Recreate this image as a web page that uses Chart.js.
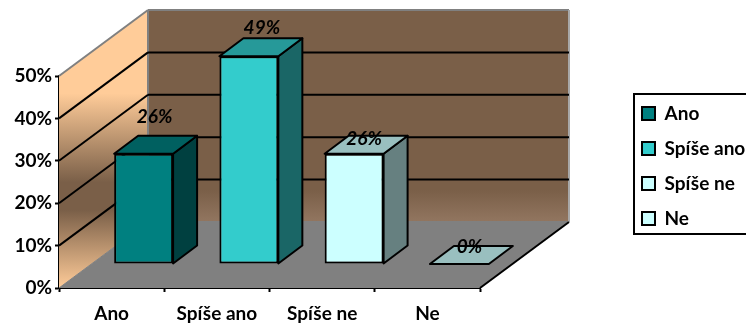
<!DOCTYPE html>
<html>
<head>
<meta charset="utf-8">
<title>Chart</title>
<script src="https://cdn.jsdelivr.net/npm/chart.js@4"></script>
<style>
    html, body { margin: 0; padding: 0; background: #fff; overflow: hidden; }
    canvas { display: block; }
</style>
</head>
<body>
<canvas id="answerChart" width="746" height="325"></canvas>
<script>
const categories = ['Ano', 'Spíše ano', 'Spíše ne', 'Ne'];
const values = [26, 49, 26, 0];
const frontColors = ['#008080', '#33CCCC', '#CCFFFF', '#CCFFFF'];
const topColors = ['#006060', '#269999', '#99BFBF', '#99BFBF'];
const sideColors = ['#004040', '#1A6666', '#668080', '#668080'];

const FONT = 'Lato, Carlito, Calibri, sans-serif';

// fake perspective: how far the back wall and the bars sit behind the axis plane
const roomDepth = { x: 89, y: -66 };
const barShift = { x: 32, y: -24 };
const barDepth = { x: 24, y: -18 };

// data label position relative to the top centre of each bar's front face
const labelOffsets = [
    { x: 11, y: -37 },
    { x: 13, y: -28 },
    { x: 10, y: -15 },
    { x: 10, y: -17 },
];

function polygon(ctx, points, fill, stroke, lineWidth) {
    ctx.beginPath();
    points.forEach((p, i) => i ? ctx.lineTo(p[0], p[1]) : ctx.moveTo(p[0], p[1]));
    ctx.closePath();
    if (fill) {
        ctx.fillStyle = fill;
        ctx.fill();
    }
    if (stroke) {
        ctx.strokeStyle = stroke;
        ctx.lineWidth = lineWidth || 2;
        ctx.lineJoin = 'round';
        ctx.stroke();
    }
}

function line(ctx, x1, y1, x2, y2, color, width) {
    ctx.beginPath();
    ctx.moveTo(x1, y1);
    ctx.lineTo(x2, y2);
    ctx.strokeStyle = color;
    ctx.lineWidth = width;
    ctx.stroke();
}

// back wall, side wall, floor and the gridlines running over them
const roomPlugin = {
    id: 'room',
    beforeDatasetsDraw(chart) {
        const ctx = chart.ctx;
        const { left, right, top, bottom } = chart.chartArea;
        const dx = roomDepth.x;
        const dy = roomDepth.y;

        ctx.save();

        const wallFill = ctx.createLinearGradient(0, top + dy, 0, bottom);
        wallFill.addColorStop(0, '#FFCC99');
        wallFill.addColorStop(0.3, '#FFCC99');
        wallFill.addColorStop(0.62, '#7A5F48');
        wallFill.addColorStop(0.72, '#7A5F48');
        wallFill.addColorStop(1, '#FFCC99');
        polygon(ctx, [[left, top], [left + dx, top + dy], [left + dx, bottom + dy], [left, bottom]], wallFill);

        const backFill = ctx.createLinearGradient(0, top + dy, 0, bottom + dy);
        backFill.addColorStop(0, '#7A5F48');
        backFill.addColorStop(0.85, '#7A5F48');
        backFill.addColorStop(1, '#927660');
        polygon(ctx, [[left + dx, top + dy], [right + dx, top + dy], [right + dx, bottom + dy], [left + dx, bottom + dy]], backFill);

        polygon(ctx, [[left, bottom], [right, bottom], [right + dx, bottom + dy], [left + dx, bottom + dy]], '#808080');

        // room edges
        line(ctx, left, top, left + dx, top + dy, '#808080', 2);
        line(ctx, left + dx, top + dy, right + dx, top + dy, '#808080', 2);
        line(ctx, left + dx, top + dy, left + dx, bottom + dy, '#808080', 2);
        line(ctx, left + dx, bottom + dy, right + dx, bottom + dy, '#808080', 2);
        line(ctx, right + dx, top + dy, right + dx, bottom + dy, '#A8A8A8', 2);
        line(ctx, left, bottom, left + dx, bottom + dy, '#808080', 1);
        line(ctx, right, bottom, right + dx, bottom + dy, '#000', 2);

        // gridlines, skipping the floor and the top edge
        chart.scales.y.ticks.forEach(tick => {
            if (tick.value <= 0 || tick.value >= 50) {
                return;
            }
            const y = chart.scales.y.getPixelForValue(tick.value);
            line(ctx, left, y, left + dx, y + dy, '#000', 2);
            line(ctx, left + dx, y + dy, right + dx, y + dy, '#000', 2);
        });

        ctx.restore();
    },
    // bars stand in the middle of the floor, so their drawing is pushed back
    beforeDatasetDraw(chart, args) {
        const ctx = chart.ctx;
        const bars = chart.getDatasetMeta(args.index).data;

        ctx.save();
        ctx.translate(barShift.x, barShift.y);

        bars.forEach((bar, i) => {
            const x1 = bar.x - bar.width / 2;
            const x2 = bar.x + bar.width / 2;
            const dx = barDepth.x;
            const dy = barDepth.y;
            if (bar.base - bar.y > 0) {
                polygon(ctx, [[x2, bar.y], [x2 + dx, bar.y + dy], [x2 + dx, bar.base + dy], [x2, bar.base]], sideColors[i], '#000');
            }
            polygon(ctx, [[x1, bar.y], [x1 + dx, bar.y + dy], [x2 + dx, bar.y + dy], [x2, bar.y]], topColors[i], '#000');
        });
    },
    afterDatasetDraw(chart) {
        chart.ctx.restore();
    },
    afterDatasetsDraw(chart) {
        const ctx = chart.ctx;
        const bars = chart.getDatasetMeta(0).data;

        ctx.save();
        ctx.font = 'italic bold 19px ' + FONT;
        ctx.fillStyle = '#000';
        ctx.textAlign = 'center';
        ctx.textBaseline = 'middle';
        bars.forEach((bar, i) => {
            ctx.fillText(values[i] + '%', bar.x + barShift.x + labelOffsets[i].x, bar.y + barShift.y + labelOffsets[i].y);
        });
        ctx.restore();
    },
};

// legend sits in its own frame that runs off the right side of the page
const legendPlugin = {
    id: 'legendFrame',
    afterLayout(chart) {
        const legend = chart.legend;
        legend.left = 626;
        legend.right = 900;
        legend.top = 88;
        legend.bottom = 325;
        legend.width = 274;
        legend.height = 237;
    },
    beforeDraw(chart) {
        const ctx = chart.ctx;
        ctx.save();
        ctx.strokeStyle = '#000';
        ctx.lineWidth = 2;
        ctx.strokeRect(634, 94, 130, 140);
        ctx.restore();
    },
};

new Chart(document.getElementById('answerChart'), {
    type: 'bar',
    data: {
        labels: categories,
        datasets: [{
            data: values,
            backgroundColor: frontColors,
            borderColor: '#000',
            borderWidth: 2,
            borderSkipped: false,
            categoryPercentage: 1,
            barPercentage: 0.56,
            clip: false,
        }],
    },
    plugins: [roomPlugin, legendPlugin],
    options: {
        responsive: false,
        animation: false,
        layout: {
            padding: { left: 0, right: 266, top: 76, bottom: 0 },
        },
        scales: {
            x: {
                afterFit(scale) {
                    scale.height = 37;
                },
                grid: {
                    drawOnChartArea: false,
                    tickColor: '#000',
                    tickWidth: 2,
                    tickLength: 4,
                },
                border: { color: '#000', width: 2 },
                ticks: {
                    color: '#000',
                    padding: 10,
                    maxRotation: 0,
                    font: { family: FONT, size: 19, weight: 'bold' },
                },
            },
            y: {
                min: 0,
                max: 50,
                afterFit(scale) {
                    scale.width = 59;
                },
                grid: {
                    drawOnChartArea: false,
                    tickColor: '#000',
                    tickWidth: 2,
                    tickLength: 4,
                },
                border: { color: '#000', width: 2 },
                ticks: {
                    color: '#000',
                    stepSize: 10,
                    padding: 3,
                    font: { family: FONT, size: 19, weight: 'bold' },
                    callback: function(value) {
                        return value + '%';
                    },
                },
            },
        },
        plugins: {
            tooltip: { enabled: false },
            legend: {
                position: 'chartArea',
                align: 'start',
                labels: {
                    boxWidth: 13,
                    boxHeight: 13,
                    padding: 16,
                    color: '#000',
                    font: { family: FONT, size: 19, weight: 'bold' },
                    generateLabels: function() {
                        return categories.map((name, i) => ({
                            text: name,
                            fillStyle: frontColors[i],
                            strokeStyle: '#000',
                            lineWidth: 2,
                            index: i,
                        }));
                    },
                },
            },
        },
    },
});
</script>
</body>
</html>
